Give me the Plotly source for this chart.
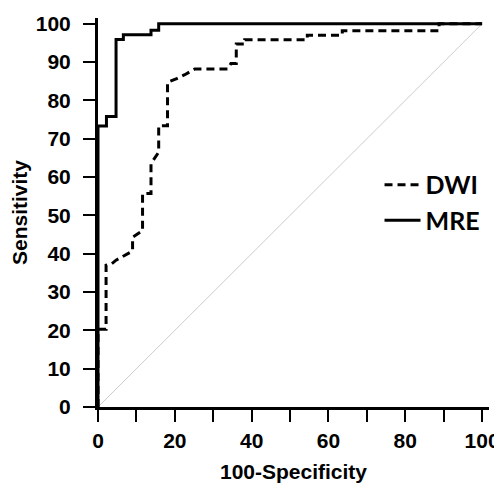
import plotly.graph_objects as go

# ROC curves (100-specificity, sensitivity)
dwi_x = [0, 0, 2.1, 2.1, 3.5, 4.7, 9, 9, 11.6, 11.6, 13.8, 13.8, 15.8, 15.8, 18.1, 18.1,
         20.5, 22.6, 25.2, 33.8, 34.6, 36, 36, 38.2, 38.2, 54.5, 54.5, 63.6, 63.6, 88.8, 88.8, 100]
dwi_y = [0, 20.3, 20.3, 37, 37.3, 38.3, 40.7, 44.3, 46, 55.7, 55.7, 63.5, 66.5, 73.4, 73.4, 84.7,
         85.7, 86.7, 88.2, 88.2, 89.6, 89.6, 94.7, 94.7, 95.8, 95.8, 97, 97, 98.2, 98.2, 100, 100]

mre_x = [0, 0, 2.2, 2.2, 4.7, 4.7, 6.6, 6.6, 13.8, 13.8, 15.8, 15.8, 100]
mre_y = [0, 73.3, 73.3, 75.8, 75.8, 95.9, 95.9, 97.1, 97.1, 98.3, 98.3, 100, 100]

diag_x = [0, 100]
diag_y = [0, 100]

fnt = "Liberation Sans"

fig = go.Figure()
fig.add_trace(go.Scatter(x=diag_x, y=diag_y, mode="lines", showlegend=False,
                         line=dict(color="#cccccc", width=1), hoverinfo="skip"))
fig.add_trace(go.Scatter(x=dwi_x, y=dwi_y, mode="lines", name="DWI", legendgroup="a",
                         line=dict(color="black", width=3, dash="8px,5px")))
fig.add_trace(go.Scatter(x=mre_x, y=mre_y, mode="lines", name="MRE", legendgroup="b",
                         line=dict(color="black", width=3)))

# page body adds an 8px offset, so the figure is drawn 8px smaller
fig.update_layout(
    width=494, height=476,
    margin=dict(l=90, r=13, t=10, b=77),
    plot_bgcolor="white", paper_bgcolor="white",
    font=dict(family=fnt, color="black", size=20, weight="bold"),
    legend=dict(x=0.72, y=0.63, xanchor="left", yanchor="top", itemwidth=36,
                font=dict(family="Lato", size=25, weight="bold"),
                tracegroupgap=0, traceorder="grouped", bgcolor="rgba(0,0,0,0)"),
    xaxis=dict(range=[0, 101.8], tickvals=[0, 20, 40, 60, 80, 100], automargin=False,
               showline=True, linecolor="black", linewidth=3,
               ticks="outside", ticklen=12, tickwidth=2, tickcolor="black",
               minor=dict(tickvals=[10, 30, 50, 70, 90], ticks="outside", ticklen=12,
                          tickwidth=2, tickcolor="black", showgrid=False),
               showgrid=False, zeroline=False, ticklabelstandoff=1,
               tickfont=dict(family=fnt, size=21, weight="bold"),
               title=dict(text="100-Specificity", font=dict(family=fnt, size=21, weight="bold"), standoff=14)),
    yaxis=dict(range=[0, 101.5], tickvals=[0, 10, 20, 30, 40, 50, 60, 70, 80, 90, 100], automargin=False,
               showline=True, linecolor="black", linewidth=3,
               ticks="outside", ticklen=12, tickwidth=2, tickcolor="black",
               showgrid=False, zeroline=False, ticklabelstandoff=8,
               tickfont=dict(family=fnt, size=21, weight="bold"),
               title=dict(text="Sensitivity", font=dict(family=fnt, size=21, weight="bold"), standoff=12)),
)

fig.write_html("out.html")
